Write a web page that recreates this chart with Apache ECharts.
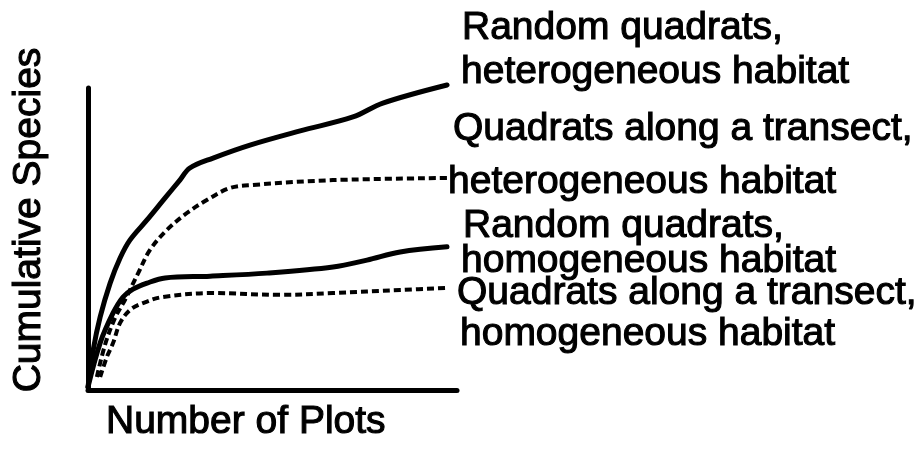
<!DOCTYPE html>
<html>
<head>
<meta charset="utf-8">
<title>Cumulative Species vs Number of Plots</title>
<script src="https://cdn.jsdelivr.net/npm/echarts@6/dist/echarts.min.js"></script>
<style>
  html, body { margin: 0; padding: 0; background: #ffffff; }
  #chart { width: 919px; height: 457px; }
</style>
</head>
<body>
<div id="chart"></div>
<script>
// Species accumulation curves (relative units, 0-100 on both axes)
const randomHeteroX   = [0, 1.4, 3.3, 6.0, 8.7, 11.4, 16.0, 20.9, 24.9, 27.6, 33.9, 43.9, 57.5, 71.8, 79.9, 97.3];
const randomHeteroY   = [1.0, 13.2, 24.2, 35.4, 43.7, 49.7, 56.3, 63.6, 69.5, 73.5, 76.8, 81.1, 85.8, 90.4, 95.0, 101.0];

const transectHeteroX = [2.4, 4.6, 7.3, 10.0, 13.6, 16.8, 21.4, 26.8, 32.2, 38.5, 44.7, 66.4, 97.3];
const transectHeteroY = [4.3, 14.9, 23.8, 29.8, 38.7, 46.4, 53.0, 58.6, 62.9, 66.9, 67.9, 69.5, 70.2];

const randomHomoX     = [0, 3.3, 6.8, 9.5, 12.2, 16.0, 20.9, 33.1, 48.5, 66.4, 75.6, 84.6, 97.3];
const randomHomoY     = [1.0, 15.6, 25.5, 30.8, 33.4, 35.4, 37.1, 37.7, 38.7, 40.7, 43.0, 45.7, 47.4];

const transectHomoX   = [3.3, 5.1, 6.8, 8.7, 11.4, 14.9, 20.3, 33.9, 52.0, 66.4, 84.6, 97.3];
const transectHomoY   = [4.3, 10.9, 15.6, 22.2, 26.5, 28.8, 30.8, 32.1, 31.5, 32.1, 33.1, 33.8];

// Curve labels, one entry per text line
const labelLines = [
  'Random quadrats,',
  'heterogeneous habitat',
  'Quadrats along a transect,',
  'heterogeneous habitat',
  'Random quadrats,',
  'homogeneous habitat',
  'Quadrats along a transect,',
  'homogeneous habitat'
];
const axisTitleY = 'Cumulative Species';
const axisTitleX = 'Number of Plots';

const zip = (xs, ys) => xs.map((x, i) => [x, ys[i]]);

const FONT = '39px "Liberation Sans", Arial, sans-serif';
const INK = '#000000';

// Label placement: [left x, top y]
const labelPos = [
  [462, 9], [461, 53], [453, 110], [448, 163],
  [463, 207], [461, 242], [457, 274], [460, 315]
];

const inkText = (text, extra) => Object.assign({
  text, font: FONT, fill: INK, stroke: INK, lineWidth: 1.1,
  textAlign: 'left', textVerticalAlign: 'top'
}, extra || {});

const textGraphics = labelLines.map((t, i) => ({
  type: 'text', x: labelPos[i][0], y: labelPos[i][1],
  style: inkText(t)
}));

textGraphics.push({
  type: 'text', x: 29, y: 220, rotation: Math.PI / 2,
  style: inkText(axisTitleY, { textAlign: 'center', textVerticalAlign: 'middle' })
});
textGraphics.push({
  type: 'text', x: 106, y: 403,
  style: inkText(axisTitleX)
});

const solid = { color: INK, width: 5, type: 'solid', cap: 'round', join: 'round' };
const dashed = { color: INK, width: 4, type: [7, 4], cap: 'butt', join: 'round' };

function curve(name, data, lineStyle) {
  return {
    name, type: 'line', data, smooth: 0.35, clip: false,
    showSymbol: false, symbol: 'none', lineStyle,
    silent: true, animation: false
  };
}

const chart = echarts.init(document.getElementById('chart'), null, { renderer: 'canvas' });
chart.setOption({
  backgroundColor: '#ffffff',
  animation: false,
  grid: { left: 88, top: 88, width: 369, height: 302 },
  xAxis: {
    type: 'value', min: 0, max: 100,
    axisLine: { show: true, onZero: false, lineStyle: { color: INK, width: 5 } },
    axisTick: { show: false }, axisLabel: { show: false }, splitLine: { show: false }
  },
  yAxis: {
    type: 'value', min: 0, max: 100,
    axisLine: { show: true, onZero: false, lineStyle: { color: INK, width: 5 } },
    axisTick: { show: false }, axisLabel: { show: false }, splitLine: { show: false }
  },
  series: [
    curve('Random quadrats, heterogeneous habitat', zip(randomHeteroX, randomHeteroY), solid),
    curve('Quadrats along a transect, heterogeneous habitat', zip(transectHeteroX, transectHeteroY), dashed),
    curve('Random quadrats, homogeneous habitat', zip(randomHomoX, randomHomoY), solid),
    curve('Quadrats along a transect, homogeneous habitat', zip(transectHomoX, transectHomoY), dashed)
  ],
  graphic: textGraphics
});
</script>
</body>
</html>
